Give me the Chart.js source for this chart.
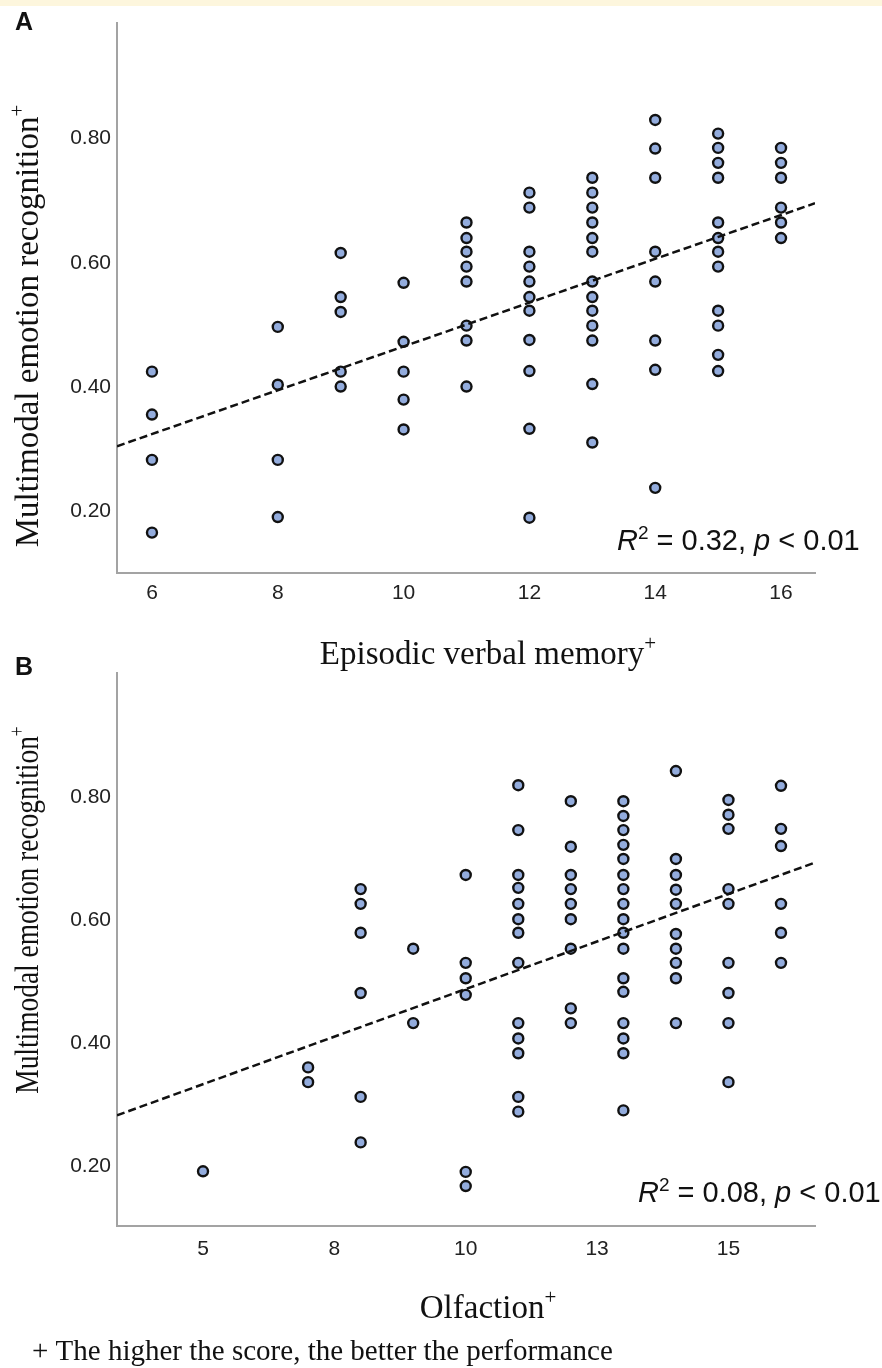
<!DOCTYPE html>
<html>
<head>
<meta charset="utf-8">
<script src="https://cdn.jsdelivr.net/npm/chart.js@4.4.1/dist/chart.umd.min.js"></script>
<style>
  html, body { margin: 0; padding: 0; background: #fff; }
  #page { position: relative; width: 882px; height: 1368px; overflow: hidden; }
  #strip { position: absolute; left: 0; top: 0; width: 882px; height: 6px; background: #fdf6dd; }
  canvas { position: absolute; left: 0; }
  #chartA { top: 0; }
  #chartB { top: 640px; }
</style>
</head>
<body>
<div id="page">
  <canvas id="chartA" width="882" height="700"></canvas>
  <canvas id="chartB" width="882" height="728"></canvas>
  <div id="strip"></div>
</div>
<script>
// Panel A: episodic verbal memory vs multimodal emotion recognition
const memoryScores = [6, 8, 9, 10, 11, 12, 13, 14, 15, 16];
const memoryRecognition = [
  [0.425, 0.356, 0.283, 0.166],
  [0.497, 0.404, 0.283, 0.191],
  [0.616, 0.545, 0.521, 0.425, 0.401],
  [0.568, 0.473, 0.425, 0.380, 0.332],
  [0.665, 0.640, 0.618, 0.594, 0.570, 0.499, 0.475, 0.401],
  [0.713, 0.689, 0.618, 0.594, 0.570, 0.545, 0.523, 0.476, 0.426, 0.333, 0.190],
  [0.737, 0.713, 0.689, 0.665, 0.640, 0.618, 0.570, 0.545, 0.523, 0.499, 0.475, 0.405, 0.311],
  [0.830, 0.784, 0.737, 0.618, 0.570, 0.475, 0.428, 0.238],
  [0.808, 0.785, 0.761, 0.737, 0.665, 0.640, 0.618, 0.594, 0.523, 0.499, 0.452, 0.426],
  [0.785, 0.761, 0.737, 0.689, 0.665, 0.640]
];
const memoryFitX = [5.444, 16.54];
const memoryFitY = [0.305, 0.696];
const memoryTicks = [6, 8, 10, 12, 14, 16];
const memoryTickLabels = ['6', '8', '10', '12', '14', '16'];

// Panel B: olfaction vs multimodal emotion recognition
const olfactionScores = [5, 7, 8, 9, 10, 11, 12, 13, 14, 15, 16];
const olfactionRecognition = [
  [0.191],
  [0.360, 0.336],
  [0.650, 0.626, 0.579, 0.481, 0.312, 0.238],
  [0.553, 0.432],
  [0.673, 0.530, 0.505, 0.478, 0.190, 0.167],
  [0.819, 0.746, 0.673, 0.652, 0.626, 0.601, 0.579, 0.530, 0.432, 0.407, 0.383, 0.312, 0.288],
  [0.793, 0.719, 0.673, 0.650, 0.626, 0.601, 0.553, 0.456, 0.432],
  [0.793, 0.769, 0.746, 0.722, 0.699, 0.673, 0.650, 0.626, 0.601, 0.579, 0.553, 0.505, 0.483, 0.432, 0.407, 0.383, 0.290],
  [0.842, 0.699, 0.673, 0.649, 0.626, 0.577, 0.553, 0.530, 0.505, 0.432],
  [0.795, 0.771, 0.748, 0.650, 0.626, 0.530, 0.481, 0.432, 0.336],
  [0.818, 0.748, 0.720, 0.626, 0.579, 0.530]
];
const olfactionFitX = [3.363, 16.61];
const olfactionFitY = [0.282, 0.692];
const olfactionTicks = [5, 7.5, 10, 12.5, 15];
const olfactionTickLabels = ['5', '8', '10', '13', '15'];

const recognitionTicks = [0.2, 0.4, 0.6, 0.8];
const recognitionTickLabels = ['0.20', '0.40', '0.60', '0.80'];

const SERIF = "'Liberation Serif', 'Times New Roman', serif";
const SANS = "'Liberation Sans', Arial, sans-serif";

function toPoints(xs, ys) {
  return xs.flatMap((x, i) => ys[i].map(y => ({ x: x, y: y })));
}

// draws a row of [text, font, rise] pieces, returns width
function drawParts(ctx, x, y, parts, measureOnly) {
  let cx = x;
  parts.forEach(([text, font, rise]) => {
    ctx.font = font;
    if (!measureOnly) ctx.fillText(text, cx, y - (rise || 0));
    cx += ctx.measureText(text).width;
  });
  return cx - x;
}

function titleParts(text) {
  return [[text, '33px ' + SERIF, 0], ['+', '21px ' + SERIF, 14]];
}

const textPlugin = {
  id: 'panelText',
  afterDraw(chart) {
    const t = chart.options.plugins.panelText;
    const ctx = chart.ctx;
    ctx.save();
    ctx.fillStyle = '#111';
    ctx.textBaseline = 'alphabetic';
    ctx.textAlign = 'left';

    // panel letter
    ctx.font = 'bold 25px ' + SANS;
    ctx.fillText(t.letter, t.letterPos[0], t.letterPos[1]);

    // x axis title
    const xp = titleParts(t.xTitle);
    const xw = drawParts(ctx, 0, 0, xp, true);
    drawParts(ctx, t.xTitlePos[0] - xw / 2, t.xTitlePos[1], xp);

    // y axis title, rotated
    const yp = titleParts('Multimodal emotion recognition');
    const yw = drawParts(ctx, 0, 0, yp, true);
    ctx.save();
    ctx.translate(t.yTitlePos[0], t.yTitlePos[1]);
    ctx.rotate(-Math.PI / 2);
    ctx.scale(t.ySqueeze, 1);
    drawParts(ctx, -yw / 2, 0, yp);
    ctx.restore();

    // R squared note
    const it = 'italic 29px ' + SANS, rg = '29px ' + SANS;
    drawParts(ctx, t.statPos[0], t.statPos[1], [
      ['R', it, 0], ['2', '19px ' + SANS, 11], [' = ' + t.r2 + ', ', rg, 0],
      ['p', it, 0], [' < 0.01', rg, 0]
    ]);

    if (t.footnote) {
      ctx.font = '29px ' + SERIF;
      ctx.fillText(t.footnote, t.footPos[0], t.footPos[1]);
    }
    ctx.restore();
  }
};

function makePanel(id, p) {
  return new Chart(document.getElementById(id), {
    type: 'scatter',
    data: {
      datasets: [{
        type: 'line',
        data: toPoints(p.fitX, p.fitX.map((_, i) => [p.fitY[i]])),
        borderColor: '#111',
        borderWidth: 2.5,
        borderDash: [8, 4],
        pointRadius: 0,
        fill: false,
        order: 0
      }, {
        data: toPoints(p.xs, p.ys),
        backgroundColor: '#93acdd',
        borderColor: '#111',
        borderWidth: 2.4,
        pointRadius: 5,
        order: 1
      }]
    },
    options: {
      responsive: false,
      animation: false,
      devicePixelRatio: 1,
      layout: { padding: { top: p.padTop, right: 67, left: 0, bottom: 0 }, autoPadding: false },
      plugins: {
        legend: { display: false },
        tooltip: { enabled: false },
        panelText: p.text
      },
      scales: {
        x: {
          type: 'linear',
          min: p.xMin,
          max: p.xMax,
          grid: { display: false, drawTicks: false },
          border: { display: true, color: '#a3a3a3', width: 2 },
          afterFit: s => { s.height = p.xAxisHeight; },
          afterBuildTicks: s => { s.ticks = p.xTicks.map(v => ({ value: v })); },
          ticks: {
            callback: (v, i) => p.xTickLabels[i],
            font: { family: SANS, size: 21 },
            color: '#222',
            padding: p.xPad,
            maxRotation: 0,
            autoSkip: false
          }
        },
        y: {
          type: 'linear',
          min: p.yMin,
          max: p.yMax,
          grid: { display: false, drawTicks: false },
          border: { display: true, color: '#a3a3a3', width: 2 },
          afterFit: s => { s.width = 117; },
          afterBuildTicks: s => { s.ticks = recognitionTicks.map(v => ({ value: v })); },
          ticks: {
            callback: (v, i) => recognitionTickLabels[i],
            font: { family: SANS, size: 21 },
            color: '#222',
            padding: 6,
            autoSkip: false
          }
        }
      }
    },
    plugins: [textPlugin]
  });
}

makePanel('chartA', {
  xs: memoryScores, ys: memoryRecognition,
  fitX: memoryFitX, fitY: memoryFitY,
  xTicks: memoryTicks, xTickLabels: memoryTickLabels,
  xMin: 5.444, xMax: 16.54, yMin: 0.101, yMax: 0.986,
  padTop: 23, xAxisHeight: 127, xPad: 8,
  text: {
    letter: 'A', letterPos: [15, 30],
    xTitle: 'Episodic verbal memory', xTitlePos: [488, 664],
    yTitlePos: [38, 326], ySqueeze: 1,
    statPos: [617, 550], r2: '0.32'
  }
});

makePanel('chartB', {
  xs: olfactionScores, ys: olfactionRecognition,
  fitX: olfactionFitX, fitY: olfactionFitY,
  xTicks: olfactionTicks, xTickLabels: olfactionTickLabels,
  xMin: 3.363, xMax: 16.647, yMin: 0.102, yMax: 1.0015,
  padTop: 33, xAxisHeight: 142, xPad: 11,
  text: {
    letter: 'B', letterPos: [15, 35],
    xTitle: 'Olfaction', xTitlePos: [488, 678],
    yTitlePos: [38, 270], ySqueeze: 0.83,
    statPos: [638, 562], r2: '0.08',
    footnote: '+ The higher the score, the better the performance', footPos: [32, 720]
  }
});
</script>
</body>
</html>
